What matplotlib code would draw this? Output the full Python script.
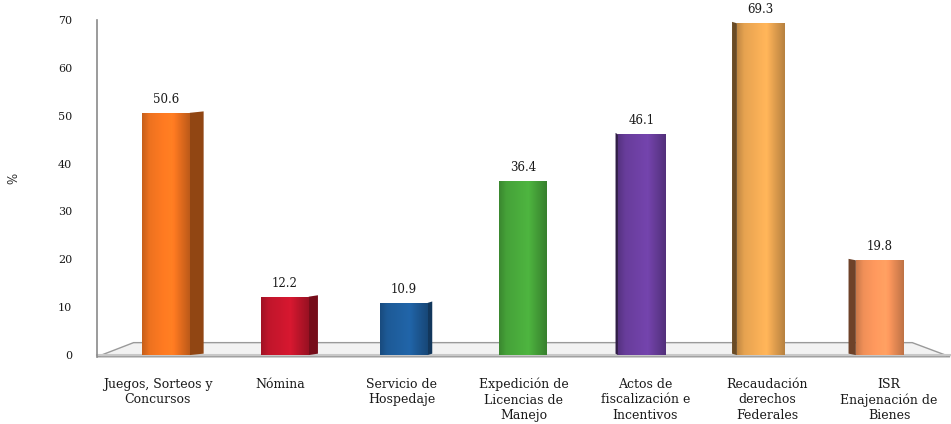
import numpy as np
import matplotlib
matplotlib.use('Agg')
import matplotlib.pyplot as plt
from matplotlib.colors import to_rgb
from matplotlib.patches import Rectangle, Polygon

categories = ['Juegos, Sorteos y\nConcursos', 'Nómina', 'Servicio de\nHospedaje',
              'Expedición de\nLicencias de\nManejo', 'Actos de\nfiscalización e\nIncentivos',
              'Recaudación\nderechos\nFederales', 'ISR\nEnajenación de\nBienes']
values = [50.6, 12.2, 10.9, 36.4, 46.1, 69.3, 19.8]
bar_colors = ['#F27420', '#C4162C', '#1E5C9A', '#47A53A', '#6A3E9E', '#EBA652', '#F5935A']
yticks = [0, 10, 20, 30, 40, 50, 60, 70]

FONT = 'DejaVu Serif'
TEXT = '#1a1a1a'


def shade(color, factor):
    rgb = np.array(to_rgb(color)) * factor
    return np.clip(rgb, 0, 1)


def gradient(color, n=64):
    # horizontal light band, darker edges
    stops = [0.0, 0.15, 0.62, 0.78, 1.0]
    facs = [0.82, 0.98, 1.10, 0.96, 0.78]
    t = np.linspace(0, 1, n)
    f = np.interp(t, stops, facs)
    return np.array([shade(color, k) for k in f])[None, :, :]


fig = plt.figure(figsize=(9.51, 4.24), dpi=100)
ax = fig.add_axes([0.102, 0.158, 0.897, 0.795])
ax.set_xlim(-0.5, 6.5)
ax.set_ylim(-0.4, 70)

# floor of the 3d box
floor = Polygon([(-0.5, -0.35), (6.5, -0.35), (6.19, 2.6), (-0.2, 2.6)], closed=True,
                facecolor='#f2f2f2', edgecolor='#9a9a9a', linewidth=1.0, zorder=1, clip_on=False)
ax.add_patch(floor)
ax.plot([-0.5, 6.5], [-0.05, -0.05], color='#c8c8c8', lw=1.5, zorder=1, clip_on=False)

width = 0.39
x = np.arange(len(values))
for i, (v, c) in enumerate(zip(values, bar_colors)):
    xc = 0.066 + i * 0.976  # perspective shift of the bars
    x0, x1 = xc - width / 2, xc + width / 2
    depth = 0.038 * (3 - i) if i < 3 else 0.02 * (3 - i)
    # side face
    if depth > 0:
        side = Polygon([(x1, 0), (x1 + depth, 0.3), (x1 + depth, v + 0.3), (x1, v)],
                       closed=True, facecolor=shade(c, 0.6), edgecolor='none', zorder=2)
        ax.add_patch(side)
    elif depth < 0:
        side = Polygon([(x0, 0), (x0 + depth, 0.3), (x0 + depth, v + 0.3), (x0, v)],
                       closed=True, facecolor=shade(c, 0.45), edgecolor='none', zorder=2)
        ax.add_patch(side)
    rect = Rectangle((x0, 0), width, v, facecolor='none', edgecolor='none', zorder=3)
    ax.add_patch(rect)
    im = ax.imshow(gradient(c), extent=[x0, x1, 0, v], aspect='auto', zorder=3,
                   interpolation='bilinear')
    im.set_clip_path(rect)
    ax.annotate(f'{v:.1f}', xy=(xc, v), xytext=(0, 5), textcoords='offset points',
                ha='center', va='bottom', fontsize=8.5, family=FONT, color=TEXT)

ax.set_xlim(-0.5, 6.5)
ax.set_ylim(-0.4, 70)

ax.set_xticks(x)
ax.set_xticklabels(categories, fontsize=9, family=FONT, color=TEXT, linespacing=1.25)
ax.set_yticks(yticks)
ax.set_yticklabels([str(t) for t in yticks], fontsize=8, family=FONT, color=TEXT)
ax.tick_params(axis='x', length=0, pad=15)
ax.tick_params(axis='y', length=0, pad=18)

for s in ['top', 'right', 'bottom']:
    ax.spines[s].set_visible(False)
ax.spines['left'].set_color('#8a8a8a')
ax.spines['left'].set_linewidth(1.2)

ax.set_ylabel('%', fontsize=8.5, family=FONT, color=TEXT)
ax.yaxis.set_label_coords(-0.09, 0.53)

fig.savefig('out.png', dpi=100, facecolor='white')
